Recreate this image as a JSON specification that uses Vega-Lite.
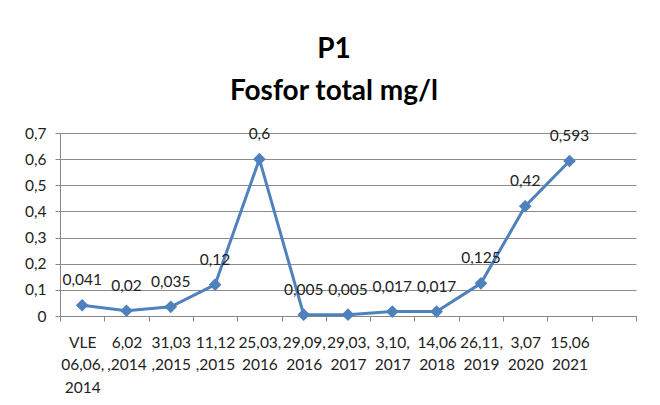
{
  "$schema": "https://vega.github.io/schema/vega-lite/v6.json",
  "width": 576,
  "height": 183,
  "autosize": {"type": "none"},
  "padding": {"left": 60, "top": 133, "right": 24, "bottom": 89},
  "background": "white",
  "config": {
    "locale": {"number": {"decimal": ",", "thousands": ".", "grouping": [3], "currency": ["", " €"]}},
    "view": {"stroke": null},
    "font": "Lato",
    "title": {"font": "Lato", "fontWeight": "bold", "fontSize": 28, "color": "#000000", "lineHeight": 42, "anchor": "middle", "dx": -14, "offset": 20},
    "axis": {"labelFont": "Lato", "labelFontSize": 15.5, "labelColor": "#222222", "domainColor": "#888888", "tickColor": "#888888", "gridColor": "#8c8c8c", "title": null}
  },
  "title": {"text": ["P1", "Fosfor total mg/l"]},
  "data": {"values": [
    {"date": "VLE|06,06,|2014", "v": 0.041},
    {"date": "6,02|,2014", "v": 0.02},
    {"date": "31,03|,2015", "v": 0.035},
    {"date": "11,12|,2015", "v": 0.12},
    {"date": "25,03,|2016", "v": 0.6},
    {"date": "29,09,|2016", "v": 0.005},
    {"date": "29,03,|2017", "v": 0.005},
    {"date": "3,10,|2017", "v": 0.017},
    {"date": "14,06|2018", "v": 0.017},
    {"date": "26,11,|2019", "v": 0.125},
    {"date": "3,07|2020", "v": 0.42},
    {"date": "15,06|2021", "v": 0.593}
  ]},
  "encoding": {
    "x": {
      "field": "date", "type": "nominal", "sort": null,
      "scale": {"domain": ["VLE|06,06,|2014", "6,02|,2014", "31,03|,2015", "11,12|,2015", "25,03,|2016", "29,09,|2016", "29,03,|2017", "3,10,|2017", "14,06|2018", "26,11,|2019", "3,07|2020", "15,06|2021", " "], "paddingInner": 0, "paddingOuter": 0},
      "axis": {"labelAngle": 0, "tickBand": "extent", "tickSize": 5, "labelPadding": 14, "labelLineHeight": 22.5, "labelExpr": "split(datum.label, '|')", "grid": false, "labelOverlap": false, "labelBaseline": "top"}
    },
    "y": {
      "field": "v", "type": "quantitative",
      "scale": {"domain": [0, 0.7], "nice": false},
      "axis": {"values": [0, 0.1, 0.2, 0.3, 0.4, 0.5, 0.6, 0.7], "format": "~g", "tickSize": 5, "labelPadding": 9, "grid": true, "domain": true}
    }
  },
  "layer": [
    {"mark": {"type": "line", "color": "#4F81BD", "strokeWidth": 3}},
    {"mark": {"type": "point", "shape": "diamond", "filled": true, "opacity": 1, "color": "#4F81BD", "size": 160}},
    {"mark": {"type": "text", "font": "Lato", "fontSize": 15.5, "color": "#222222", "baseline": "middle", "dy": -25},
     "encoding": {"text": {"field": "v", "type": "quantitative", "format": "~g"}}}
  ]
}
